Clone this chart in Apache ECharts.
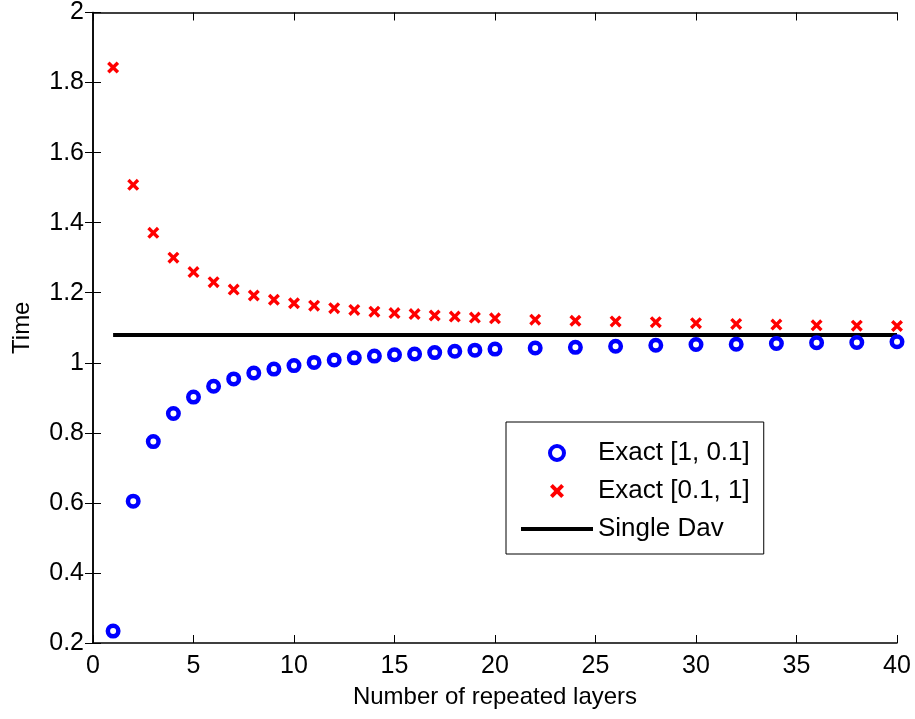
<!DOCTYPE html>
<html>
<head>
<meta charset="utf-8">
<script src="https://cdn.jsdelivr.net/npm/echarts@6/dist/echarts.min.js"></script>
<style>
html, body { margin: 0; padding: 0; background: #fff; }
#chartDom { width: 915px; height: 719px; }
</style>
</head>
<body>
<div id="chartDom"></div>
<script>
// 数据
const layers = [1,2,3,4,5,6,7,8,9,10,11,12,13,14,15,16,17,18,19,20,22,24,26,28,30,32,34,36,38,40];
const exactA = [0.234,0.605,0.775,0.855,0.902,0.933,0.954,0.971,0.982,0.992,1.001,1.008,1.014,1.019,1.023,1.025,1.029,1.033,1.036,1.039,1.042,1.044,1.047,1.050,1.052,1.053,1.055,1.057,1.058,1.060];
const exactB = [1.843,1.508,1.371,1.300,1.259,1.230,1.209,1.192,1.180,1.170,1.163,1.156,1.151,1.146,1.142,1.139,1.135,1.132,1.129,1.127,1.123,1.120,1.118,1.116,1.113,1.111,1.109,1.107,1.106,1.105];
const singleDavX = [1, 40];
const singleDav = 1.079;

const font = "Liberation Sans, Arial, sans-serif";
const crossPath = "path://M2,0 L5,3 L8,0 L10,2 L7,5 L10,8 L8,10 L5,7 L2,10 L0,8 L3,5 L0,2 Z";
const barPath = "path://M0,0 H72 V4 H0 Z";

let myChart = echarts.init(document.getElementById("chartDom"));
myChart.setOption({
  animation: false,
  textStyle: { fontFamily: font },
  grid: { left: 93, right: 18, top: 10, bottom: 76 },
  legend: {
    left: 506,
    top: 422,
    orient: "vertical",
    backgroundColor: "#fff",
    borderColor: "#000",
    borderWidth: 1,
    padding: [18, 14, 12, 15],
    itemWidth: 72,
    itemHeight: 14,
    itemGap: 12,
    textStyle: { fontFamily: font, fontSize: 26, lineHeight: 26, color: "#000" },
    data: [
      { name: "Exact [1, 0.1]", itemStyle: { borderWidth: 4 } },
      "Exact [0.1, 1]",
      { name: "Single Dav", icon: barPath, itemStyle: { color: "#000" } }
    ]
  },
  xAxis: [{
    type: "value",
    min: 0, max: 40, interval: 5,
    name: "Number of repeated layers",
    nameLocation: "middle",
    nameGap: 42,
    nameTextStyle: { fontSize: 24, color: "#000" },
    axisLine: { lineStyle: { color: "#000", width: 1.5 } },
    axisTick: { inside: true, length: 8, lineStyle: { color: "#000" } },
    axisLabel: { fontSize: 25, color: "#000", margin: 11 },
    splitLine: { show: false }
  }, {
    type: "value",
    position: "top",
    min: 0, max: 40, interval: 5,
    axisLine: { show: true, lineStyle: { color: "#000", width: 1.5 } },
    axisTick: { inside: true, length: 8, lineStyle: { color: "#000" } },
    axisLabel: { show: false },
    splitLine: { show: false }
  }],
  yAxis: [{
    type: "value",
    min: 0.2, max: 2, interval: 0.2,
    name: "Time",
    nameLocation: "middle",
    nameGap: 59,
    nameTextStyle: { fontSize: 24, color: "#000" },
    axisLine: { show: true, lineStyle: { color: "#000", width: 1.5 } },
    axisTick: { inside: true, length: 8, lineStyle: { color: "#000" } },
    axisLabel: { fontSize: 25, color: "#000", margin: 9,
      formatter: v => String(Math.round(v * 10) / 10) },
    splitLine: { show: false }
  }, {
    type: "value",
    position: "right",
    min: 0.2, max: 2, interval: 0.2,
    axisLine: { show: true, lineStyle: { color: "#000", width: 1.5 } },
    axisTick: { inside: true, length: 8, lineStyle: { color: "#000" } },
    axisLabel: { show: false },
    splitLine: { show: false }
  }],
  series: [
    {
      name: "Exact [1, 0.1]",
      type: "scatter",
      symbol: "circle",
      symbolSize: 10.5,
      itemStyle: { color: "#fff", borderColor: "#0000ff", borderWidth: 4.5, opacity: 1 },
      data: layers.map((x, i) => [x, exactA[i]]),
      z: 3
    },
    {
      name: "Exact [0.1, 1]",
      type: "scatter",
      symbol: crossPath,
      symbolSize: 12,
      itemStyle: { color: "#ff0000", opacity: 1 },
      data: layers.map((x, i) => [x, exactB[i]]),
      z: 3
    },
    {
      name: "Single Dav",
      type: "line",
      symbol: "none",
      lineStyle: { color: "#000", width: 4 },
      itemStyle: { color: "#000" },
      data: singleDavX.map(x => [x, singleDav]),
      z: 2
    }
  ]
});
</script>
</body>
</html>
